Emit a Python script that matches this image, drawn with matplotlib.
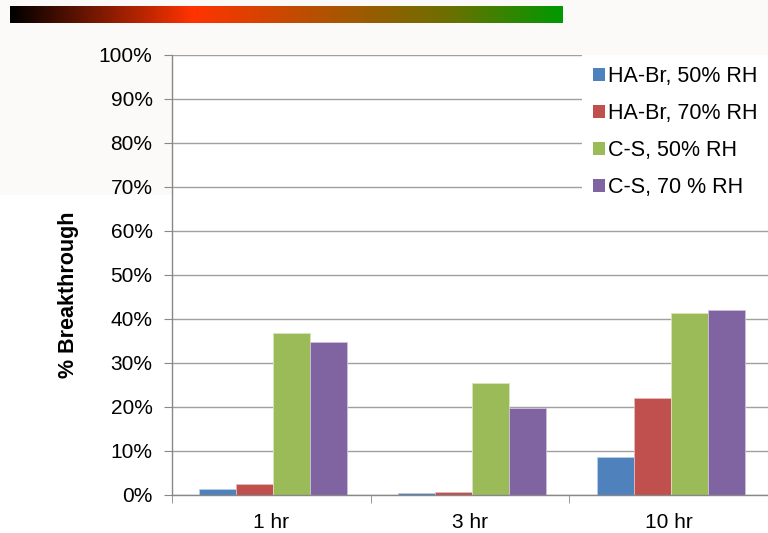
import matplotlib
matplotlib.use("Agg")
import matplotlib.pyplot as plt
import numpy as np
from matplotlib.colors import LinearSegmentedColormap
from matplotlib.patches import Rectangle
from matplotlib.ticker import PercentFormatter, FixedLocator

categories = ["1 hr", "3 hr", "10 hr"]
series_names = ["HA-Br, 50% RH", "HA-Br, 70% RH", "C-S, 50% RH", "C-S, 70 % RH"]
ha_br_50 = [1.3, 0.3, 8.6]
ha_br_70 = [2.3, 0.5, 22.0]
cs_50 = [36.8, 25.3, 41.4]
cs_70 = [34.6, 19.6, 41.9]
series_values = [ha_br_50, ha_br_70, cs_50, cs_70]
colors = ["#4f81bd", "#c0504d", "#9bbb59", "#8064a2"]
edge_colors = ["#b9cde5", "#e6b9b8", "#d7e4bd", "#ccc1da"]

plt.rcParams['font.family'] = ['Liberation Sans', 'DejaVu Sans']
FS = 15

fig = plt.figure(figsize=(7.68, 5.33), dpi=100)
fig.patch.set_facecolor("white")
# off-white slide background band at the top
bg = Rectangle((0, (533 - 195) / 533), 1, 195 / 533, transform=fig.transFigure,
               facecolor="#fbfaf8", edgecolor="none", zorder=-10)
fig.patches.append(bg)

# gradient bar
cmap = LinearSegmentedColormap.from_list("grad", [(0.0, "#000000"), (0.33, "#ff3300"),
                                                  (0.6, "#a85600"), (0.8, "#6a7000"), (1.0, "#009900")])
gax = fig.add_axes([10 / 768, (533 - 23) / 533, 553 / 768, 17 / 533])
gax.imshow(np.linspace(0, 1, 512)[None, :], aspect="auto", cmap=cmap)
gax.set_axis_off()

ax = fig.add_axes([172 / 768, (533 - 494.5) / 533, (768 - 172) / 768, (494.5 - 55) / 533])
ax.set_facecolor("white")
x = np.arange(len(categories))
w = 0.186
for i, (name, vals) in enumerate(zip(series_names, series_values)):
    ax.bar(x + (i - 1.5) * w + 0.01, vals, w, color=colors[i], edgecolor=edge_colors[i],
           linewidth=0.6, label=name, zorder=3)

ax.set_xlim(-0.5, 2.5)
ax.set_ylim(0, 100)
ax.set_yticks(np.arange(0, 101, 10))
ax.yaxis.set_major_formatter(PercentFormatter(decimals=0))
ax.yaxis.grid(True, color="#a0a0a0", linewidth=1.0, zorder=0)
ax.set_xticks(x)
ax.set_xticklabels(categories)
ax.xaxis.set_minor_locator(FixedLocator([-0.5, 0.5, 1.5, 2.5]))
ax.tick_params(axis="x", which="major", length=0, labelsize=FS, pad=13)
ax.tick_params(axis="x", which="minor", length=6, color="#888888", direction="out")
ax.tick_params(axis="y", length=6, color="#888888", labelsize=FS, pad=8)
for s in ["top", "right"]:
    ax.spines[s].set_visible(False)
for s in ["left", "bottom"]:
    ax.spines[s].set_color("#888888")
    ax.spines[s].set_linewidth(1.0)
ax.spines["bottom"].set_zorder(4)

ax.set_ylabel("% Breakthrough", fontsize=15.5, fontweight="bold", va="center")
ax.yaxis.set_label_coords(-0.174, 0.454)

leg = ax.legend(loc="upper right", bbox_to_anchor=(1.0, 1.0), frameon=True, fontsize=15.5,
                handlelength=0.55, handleheight=0.55, handletextpad=0.15, labelspacing=0.75,
                borderpad=0.5, borderaxespad=0.0, fancybox=False)
leg.get_frame().set_edgecolor("none")
leg.get_frame().set_facecolor("white")
leg.get_frame().set_alpha(1.0)
for h in leg.legend_handles:
    h.set_edgecolor("none")

fig.savefig("out.png", dpi=100, facecolor=fig.get_facecolor())
